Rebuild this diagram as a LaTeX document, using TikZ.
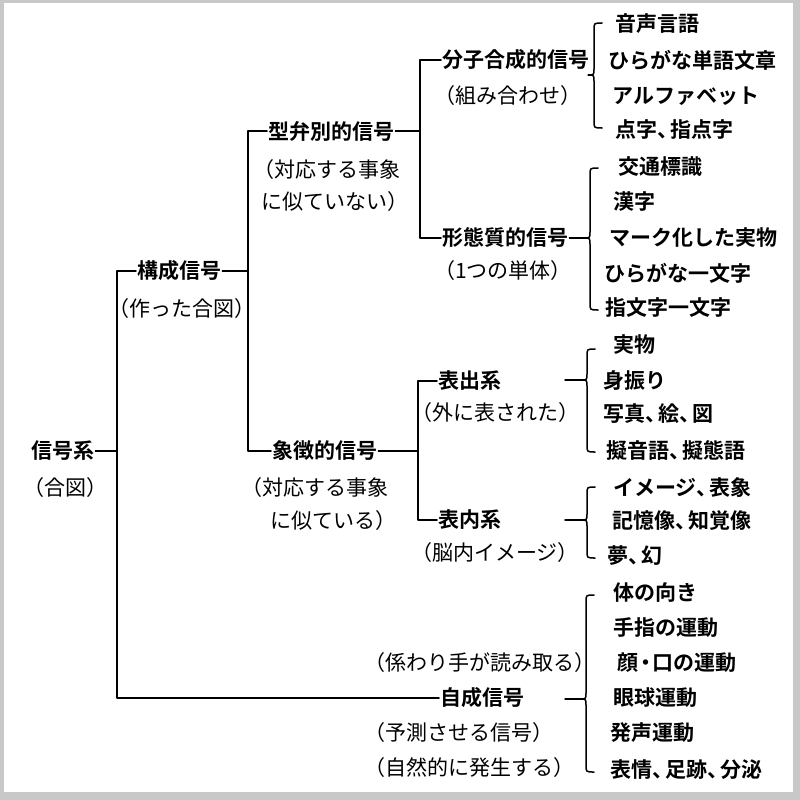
\documentclass[tikz,border=0pt]{standalone}
\usepackage{fontspec}
\setmainfont{Noto Sans CJK JP}[BoldFont={Noto Sans CJK JP Bold}]
\definecolor{frame}{RGB}{200,200,200}
\newcommand\tou{\makebox[0.62em][l]{、}}
\newcommand\nakaguro{\makebox[0.7em][c]{・}}
\tikzset{
  lab/.style={font=\bfseries\fontsize{21}{25}\selectfont, inner sep=1pt, anchor=west},
  note/.style={font=\fontsize{21}{25}\selectfont, inner sep=1pt, anchor=west},
  ln/.style={line width=1.5pt, line cap=round, line join=round},
}
\newcommand\mybrace[4]{%
  \draw[ln] (#1+8,#2) .. controls (#1,#2) .. (#1,#2+7) -- (#1,#3-6)
    .. controls (#1,#3) .. (#1-6,#3) .. controls (#1,#3) .. (#1,#3+6)
    -- (#1,#4-7) .. controls (#1,#4) .. (#1+8,#4);}
\begin{document}
\begin{tikzpicture}[x=1pt,y=-1pt]
\useasboundingbox (0,0) rectangle (800,800);
\fill[frame] (0,0) rectangle (800,800);
\fill[white] (4,3) rectangle (793,792);

% level 0
\node[lab] (sys) at (30,451) {信号系};
\node[note] (sysn) at (22,488) {（合図）};
% level 1
\node[lab] (kosei) at (136,271) {構成信号};
\node[note] (kosein) at (107,309) {（作った合図）};
\node[lab] (jisei) at (439,698) {自成信号};
\node[note] (jisein0) at (363,663) {（係わり手が読み取る）};
\node[note] (jisein1) at (363,733) {（予測させる信号）};
\node[note] (jisein2) at (363,768) {（自然的に発生する）};
% level 2
\node[lab] (kata) at (267,131) {型弁別的信号};
\node[note] (katan1) at (252,170) {（対応する事象};
\node[note] (katan2) at (260,202) {に似ていない）};
\node[lab] (shocho) at (271,451) {象徴的信号};
\node[note] (shochon1) at (240,488) {（対応する事象};
\node[note] (shochon2) at (269,521) {に似ている）};
% level 3
\node[lab] (bunshi) at (441,60) {分子合成的信号};
\node[note] (bunshin) at (433,96) {（組み合わせ）};
\node[lab] (keitai) at (441,238) {形態質的信号};
\node[note] (keitain) at (433,271) {（1つの単体）};
\node[lab] (hyoshutsu) at (437,381) {表出系};
\node[note] (hyoshutsun) at (410,413) {（外に表された）};
\node[lab] (hyonai) at (437,520) {表内系};
\node[note] (hyonain) at (410,553) {（脳内イメージ）};
% leaves
\node[lab] (l1) at (614,24) {音声言語};
\node[lab] (l2) at (607,60) {ひらがな単語文章};
\node[lab] (l3) at (611,96) {アルファベット};
\node[lab] (l4) at (614,130) {点字\tou 指点字};
\node[lab] (m1) at (617,167) {交通標識};
\node[lab] (m2) at (612,202) {漢字};
\node[lab] (m3) at (608,238) {マーク化した実物};
\node[lab] (m4) at (603,273) {ひらがな一文字};
\node[lab] (m5) at (604,308) {指文字一文字};
\node[lab] (o1) at (612,345) {実物};
\node[lab] (o2) at (602,380) {身振り};
\node[lab] (o3) at (602,414) {写真\tou 絵\tou 図};
\node[lab] (o4) at (605,450) {擬音語\tou 擬態語};
\node[lab] (p1) at (612,488) {イメージ\tou 表象};
\node[lab] (p2) at (611,521) {記憶像\tou 知覚像};
\node[lab] (p3) at (606,556) {夢\tou 幻};
\node[lab] (q1) at (612,593) {体の向き};
\node[lab] (q2) at (612,628) {手指の運動};
\node[lab] (q3) at (616,663) {顔\nakaguro 口の運動};
\node[lab] (q4) at (612,698) {眼球運動};
\node[lab] (q5) at (609,733) {発声運動};
\node[lab] (q6) at (609,770) {表情\tou 足跡\tou 分泌};

% tree junction columns
\coordinate (ca) at (117,0);
\coordinate (cb) at (248,0);
\coordinate (cc) at (420,0);
\coordinate (cd) at (418,0);

\draw[ln] (sys.east) -- (sys.east -| ca);
\draw[ln] (kosei.west) -- (kosei.west -| ca) -- (jisei.west -| ca) -- (jisei.west);
\draw[ln] (kosei.east) -- (kosei.east -| cb);
\draw[ln] (kata.west) -- (kata.west -| cb) -- (shocho.west -| cb) -- (shocho.west);
\draw[ln] (kata.east) -- (kata.east -| cc);
\draw[ln] (bunshi.west) -- (bunshi.west -| cc) -- (keitai.west -| cc) -- (keitai.west);
\draw[ln] (shocho.east) -- (shocho.east -| cd);
\draw[ln] (hyoshutsu.west) -- (hyoshutsu.west -| cd) -- (hyonai.west -| cd) -- (hyonai.west);

% braces
\mybrace{594}{23}{75}{128}
\mybrace{590}{168}{238}{310}
\mybrace{587}{349}{380}{452}
\mybrace{587}{487}{520}{558}
\mybrace{586}{595}{699}{772}

% lead lines into the braces
\coordinate (kb) at (584,238);
\coordinate (hs) at (565,380);
\coordinate (hb) at (581,380);
\coordinate (ns) at (565,520);
\coordinate (nb) at (581,520);
\coordinate (js) at (565,699);
\coordinate (jb) at (580,699);
\draw[ln] (keitai.east) -- (kb);
\draw[ln] (hs) -- (hb);
\draw[ln] (ns) -- (nb);
\draw[ln] (js) -- (jb);
\end{tikzpicture}
\end{document}
